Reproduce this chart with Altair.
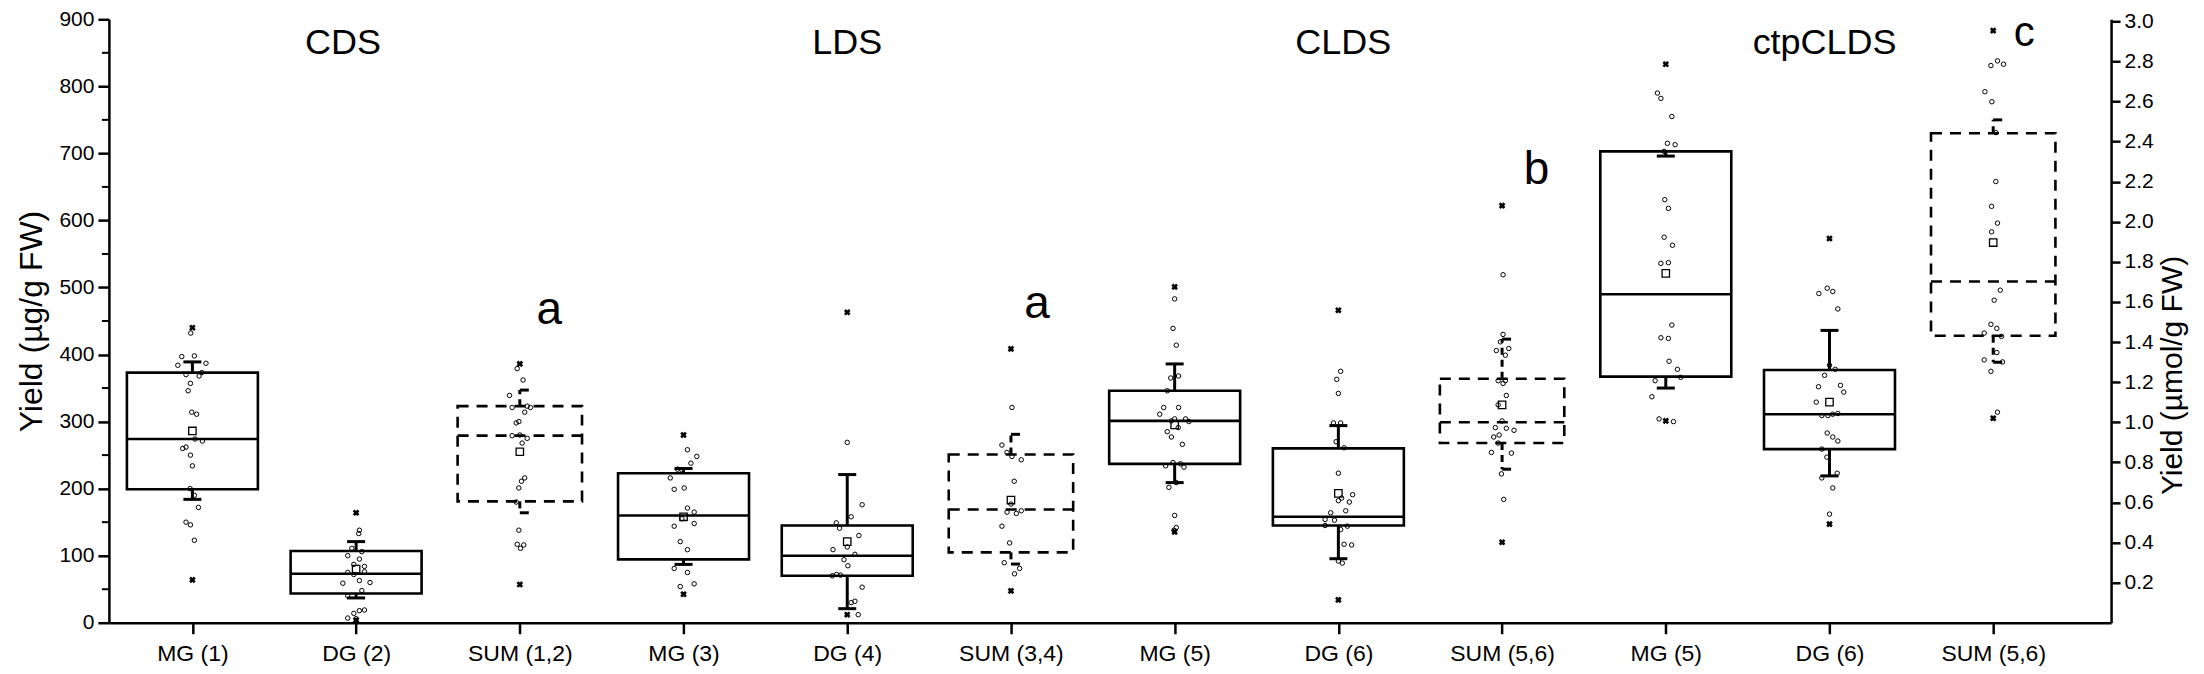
import altair as alt
import pandas as pd
import numpy as np

# ---------------- data ----------------
categories = ["MG (1)", "DG (2)", "SUM (1,2)", "MG (3)", "DG (4)", "SUM (3,4)",
              "MG (5)", "DG (6)", "SUM (5,6)", "MG (5)", "DG (6)", "SUM (5,6)"]
positions = list(range(1, 13))
dashed = [False, False, True, False, False, True, False, False, True, False, False, True]

q1 = [199, 43.5, 181, 94.5, 70, 105, 237, 145, 268, 367, 259, 428]
median = [274, 73, 279, 160, 100, 169, 301, 158, 299, 490, 311, 509]
q3 = [373, 107, 323, 223, 145, 251, 346, 260, 364, 703, 377, 730]
whisk_lo = [184, 37, 164, 87, 21, 87.5, 209, 95.5, 229, 350, 219, 388.5]
whisk_hi = [389, 121, 347, 230, 221, 281, 386, 294, 423, 696, 436, 750]
means = [286, 80, 255, 158, 121, 183, 295, 193, 325, 521, 329, 567]
mins = [64, 4, 57, 42.5, 12, 47.5, 135.5, 34, 120, 301, 147, 305]
maxs = [440, 164, 386, 280, 463, 408.5, 501, 466, 622, 833, 573, 883]

# jittered raw points: (horizontal jitter in category units, value)
points = [
    [(-0.01, 432), (-0.065, 397), (0.012, 398), (-0.089, 384), (0.083, 387), (-0.039, 370),
     (0.041, 368), (0.057, 373), (-0.012, 357), (-0.026, 346), (-0.004, 314), (0.026, 311),
     (0.016, 274), (0.061, 271), (-0.059, 260), (-0.039, 262), (-0.012, 250), (0.0, 234),
     (-0.014, 200), (0.012, 190), (0.037, 172), (-0.039, 150), (-0.012, 146), (0.012, 123)],
    [(0.02, 138), (0.016, 133), (-0.026, 111), (0.035, 106), (-0.051, 100), (0.02, 95),
     (-0.014, 87), (0.051, 84), (-0.051, 75), (-0.014, 72), (0.051, 76), (-0.081, 59),
     (0.02, 63), (0.085, 60), (0.035, 48), (-0.051, 40), (-0.014, 14), (0.02, 18),
     (0.051, 19), (-0.051, 7), (0.0, 6)],
    [(-0.016, 379), (0.02, 362), (-0.063, 339), (-0.047, 321), (0.045, 323), (0.065, 321),
     (0.03, 314), (-0.006, 300), (-0.022, 298), (-0.047, 279), (0.0, 280), (0.014, 268),
     (0.045, 275), (0.03, 216), (0.01, 211), (-0.006, 201), (-0.022, 180), (-0.006, 138),
     (-0.016, 117), (0.024, 116), (0.004, 111)],
    [(0.024, 258), (0.081, 248), (0.045, 238), (-0.037, 229), (-0.01, 228), (-0.081, 216),
     (-0.057, 199), (0.004, 201), (0.024, 171), (0.065, 165), (-0.01, 155), (0.065, 148),
     (-0.057, 144), (-0.02, 121), (0.024, 109), (-0.057, 81), (0.024, 75), (0.065, 58),
     (-0.02, 54)],
    [(0.0, 269), (0.091, 176), (0.024, 158), (-0.067, 149), (-0.047, 141), (0.071, 130),
     (0.0, 113), (-0.087, 109), (0.047, 102), (-0.02, 94), (0.004, 85), (-0.091, 70),
     (-0.065, 72), (-0.041, 71), (0.091, 53), (0.047, 32), (0.024, 30), (0.067, 12)],
    [(0.006, 321), (-0.055, 265), (-0.024, 254), (0.006, 248), (0.063, 243), (0.02, 211),
     (0.0, 177), (-0.024, 165), (0.033, 163), (0.063, 167), (-0.055, 144), (-0.008, 119),
     (-0.041, 89.5), (0.053, 81), (0.022, 73)],
    [(0.0, 483), (-0.01, 439), (0.01, 414), (-0.024, 365), (0.024, 368), (-0.045, 346),
     (-0.067, 321), (-0.091, 311), (0.024, 321), (0.0, 304), (0.067, 304), (-0.02, 301),
     (0.087, 300), (0.022, 291), (-0.045, 285), (-0.02, 277), (0.047, 266), (-0.055, 234),
     (-0.01, 239), (0.035, 237), (0.057, 232), (-0.035, 202), (0.01, 209), (0.0, 160),
     (0.01, 142), (-0.004, 138)],
    [(0.014, 375), (-0.01, 363), (0.0, 342), (-0.03, 298), (0.014, 298), (-0.014, 270),
     (0.035, 261), (0.0, 223), (0.087, 191), (0.0, 182), (0.02, 186), (0.067, 180),
     (0.045, 167), (-0.047, 164), (-0.081, 154), (-0.024, 153), (-0.081, 145), (0.014, 139),
     (0.055, 144), (0.035, 117), (0.081, 116), (0.0, 92), (0.024, 89)],
    [(0.006, 519), (0.006, 430), (-0.01, 419), (0.041, 409), (-0.035, 406), (0.02, 399),
     (-0.024, 361), (0.006, 357), (0.02, 361), (0.026, 339), (-0.024, 325), (0.0, 301),
     (-0.041, 291), (0.026, 290), (0.073, 287), (-0.018, 280), (-0.051, 277), (-0.024, 268),
     (-0.065, 254), (0.057, 253), (-0.004, 222), (0.01, 184)],
    [(-0.051, 790), (-0.03, 782), (0.037, 755), (0.01, 715), (0.057, 713), (-0.01, 703),
     (-0.006, 631), (0.016, 618), (-0.01, 575), (0.041, 563), (-0.03, 536), (0.016, 537),
     (0.037, 444), (-0.03, 425), (0.016, 424), (0.02, 390), (0.071, 378), (0.091, 366),
     (-0.065, 361), (-0.085, 337), (-0.041, 304), (0.047, 300)],
    [(-0.065, 491), (-0.014, 499), (0.02, 494), (0.051, 468), (0.0, 384), (0.035, 378),
     (-0.03, 369), (-0.067, 352), (0.067, 354), (0.087, 344), (-0.081, 329), (-0.047, 309),
     (-0.01, 309), (0.02, 311), (0.051, 312), (-0.014, 283), (0.02, 277), (0.051, 271),
     (-0.047, 259), (-0.016, 247), (0.047, 223), (-0.047, 216), (0.02, 201), (0.0, 162)],
    [(-0.014, 831), (0.026, 838), (0.063, 833), (-0.051, 792), (-0.008, 777), (0.016, 731),
     (0.016, 658), (-0.01, 621), (0.026, 596), (-0.01, 583), (0.043, 496), (0.006, 481),
     (-0.014, 445), (0.022, 439), (-0.055, 432), (0.051, 427), (0.022, 403), (-0.055, 392),
     (0.057, 389), (-0.014, 375), (0.026, 314)],
]

group_names = ["CDS", "LDS", "CLDS", "ctpCLDS"]
group_pos = [1.92, 5.0, 8.03, 10.97]
group_y = [848, 848, 848, 848]

letters = ["a", "a", "b", "c"]
letter_pos = [3.18, 6.16, 9.21, 12.19]
letter_y = [445, 454, 654, 860]
letter_size = [46, 46, 46, 42]

left_ticks = list(range(0, 901, 100))
left_minor = list(range(50, 900, 100))
right_ticks = [round(0.2 * i, 1) for i in range(1, 16)]

# ---------------- tables ----------------
box = pd.DataFrame({"pos": positions, "q1": q1, "median": median, "q3": q3,
                    "lo": whisk_lo, "hi": whisk_hi, "mean": means,
                    "mn": mins, "mx": maxs, "dashed": dashed})
box["hw"] = np.where(box["dashed"], 0.38, 0.40)
box["xl"] = box["pos"] - box["hw"]
box["xr"] = box["pos"] + box["hw"]
box["cl"] = np.where(box["dashed"], box["pos"], box["pos"] - 0.055)
box["cr"] = box["pos"] + 0.055
solid = box[~box["dashed"]]
dash = box[box["dashed"]]

pts = pd.DataFrame([{"x": p + o, "v": v} for p, plist in zip(positions, points) for o, v in plist])
ext = pd.DataFrame({"x": positions * 2, "v": mins + maxs})

FONT = "Liberation Sans"
xscale = alt.Scale(domain=[0.49, 12.72], nice=False, zero=False)
yscale = alt.Scale(domain=[0, 900], nice=False)
names_js = "[" + ",".join("'" + c + "'" for c in categories) + "]"
x_axis = alt.Axis(values=positions, labelExpr=names_js + "[datum.value-1]", title=None,
                  grid=False, tickSize=11, tickWidth=2.5, domainWidth=2.5,
                  domainColor="black", tickColor="black", labelColor="black",
                  labelFontSize=23, labelFont=FONT, labelPadding=9)
y_axis = alt.Axis(values=left_ticks, title="Yield (\u00b5g/g FW)", grid=False,
                  tickSize=11, tickWidth=2.5, domainWidth=2.5, domainColor="black",
                  tickColor="black", labelColor="black", labelFontSize=21, labelFont=FONT,
                  labelPadding=4, titleFont=FONT, titleFontSize=32, titleFontWeight="normal",
                  titleColor="black", titlePadding=10)


def X(f):
    return alt.X(f, type="quantitative", scale=xscale, axis=x_axis)


def Y(f):
    return alt.Y(f, type="quantitative", scale=yscale, axis=y_axis)


LW = 2.6
DASH = [11, 8]

layers = []
# boxes
layers.append(alt.Chart(solid).mark_rect(fillOpacity=0, stroke="black", strokeWidth=LW)
              .encode(x=X("xl"), x2="xr", y=Y("q1"), y2="q3"))
layers.append(alt.Chart(dash).mark_rect(fillOpacity=0, stroke="black", strokeWidth=LW,
                                        strokeDash=DASH)
              .encode(x=X("xl"), x2="xr", y=Y("q1"), y2="q3"))
# medians
layers.append(alt.Chart(solid).mark_rule(color="black", strokeWidth=LW)
              .encode(x=X("xl"), x2="xr", y=Y("median")))
layers.append(alt.Chart(dash).mark_rule(color="black", strokeWidth=LW, strokeDash=DASH)
              .encode(x=X("xl"), x2="xr", y=Y("median")))
# whiskers
layers.append(alt.Chart(solid).mark_rule(color="black", strokeWidth=3)
              .encode(x=X("pos"), y=Y("q3"), y2="hi"))
layers.append(alt.Chart(solid).mark_rule(color="black", strokeWidth=3)
              .encode(x=X("pos"), y=Y("q1"), y2="lo"))
layers.append(alt.Chart(dash).mark_rule(color="black", strokeWidth=3, strokeDash=[7, 5])
              .encode(x=X("pos"), y=Y("q3"), y2="hi"))
layers.append(alt.Chart(dash).mark_rule(color="black", strokeWidth=3, strokeDash=[7, 5])
              .encode(x=X("pos"), y=Y("q1"), y2="lo"))
layers.append(alt.Chart(box).mark_rule(color="black", strokeWidth=3)
              .encode(x=X("cl"), x2="cr", y=Y("hi")))
layers.append(alt.Chart(box).mark_rule(color="black", strokeWidth=3)
              .encode(x=X("cl"), x2="cr", y=Y("lo")))
# raw points
layers.append(alt.Chart(pts).mark_point(shape="circle", filled=False, size=20, color="black",
                                        strokeWidth=1, opacity=1)
              .encode(x=X("x"), y=Y("v")))
# means
layers.append(alt.Chart(box).mark_point(shape="square", filled=False, size=55, color="black",
                                        strokeWidth=1.3, opacity=1)
              .encode(x=X("pos"), y=Y("mean")))
# min / max
layers.append(alt.Chart(ext).mark_point(shape="cross", angle=45, filled=True, size=45,
                                        color="black", opacity=1)
              .encode(x=X("x"), y=Y("v")))
# minor ticks on left axis
layers.append(alt.Chart(pd.DataFrame({"v": left_minor})).mark_rule(color="black", strokeWidth=2)
              .encode(x=alt.value(0), x2=alt.value(-7), y=Y("v")))
# group labels
layers.append(alt.Chart(pd.DataFrame({"t": group_names, "x": group_pos, "v": group_y}))
              .mark_text(font=FONT, fontSize=36, color="black", align="center",
                         baseline="alphabetic")
              .encode(x=X("x"), y=Y("v"), text="t:N"))
# significance letters
layers.append(alt.Chart(pd.DataFrame({"t": letters, "x": letter_pos, "v": letter_y,
                                      "s": letter_size}))
              .mark_text(font=FONT, color="black", align="center", baseline="alphabetic")
              .encode(x=X("x"), y=Y("v"), text="t:N",
                      size=alt.Size("s:Q", scale=None, legend=None)))

left = alt.layer(*layers)

right_axis = alt.Axis(values=right_ticks, format=".1f", orient="right",
                      title="Yield (\u00b5mol/g FW)", grid=False, tickSize=9, tickWidth=2.5,
                      domainWidth=2.5, domainColor="black", tickColor="black",
                      labelColor="black", labelFontSize=21, labelFont=FONT, labelPadding=4,
                      titleFont=FONT, titleFontSize=30, titleFontWeight="normal",
                      titleColor="black", titleAngle=270, titleBaseline="top",
                      titlePadding=4, titleY=356)
right = alt.Chart(pd.DataFrame({"v": right_ticks})).mark_point(opacity=0).encode(
    y=alt.Y("v:Q", scale=alt.Scale(domain=[0, 3.01], nice=False), axis=right_axis))

chart = alt.layer(left, right).resolve_scale(y="independent").properties(
    width=2004, height=604,
    autosize=alt.AutoSizeParams(type="none"),
    padding={"left": 101, "top": 11, "right": 85, "bottom": 43},
    background="white",
).configure_view(stroke=None)

chart.save("out.html", embed_options={"renderer": "svg", "actions": False})
